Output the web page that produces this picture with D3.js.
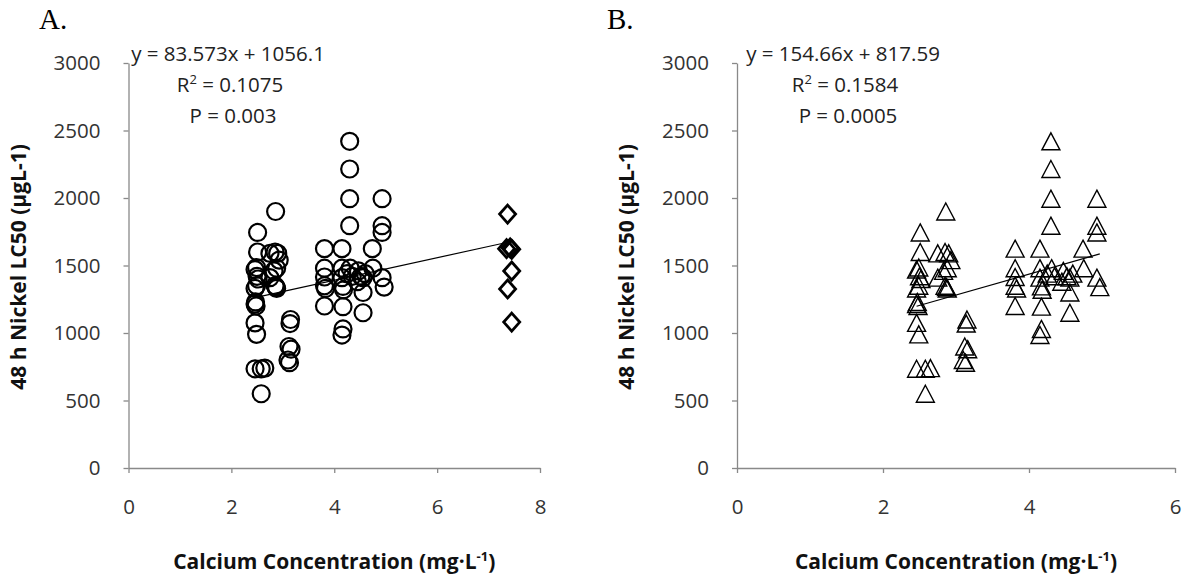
<!DOCTYPE html>
<html>
<head>
<meta charset="utf-8">
<script src="https://cdn.jsdelivr.net/npm/d3@7"></script>
<style>
  body { margin: 0; background: #fff; }
  text { font-family: "Open Sans", sans-serif; }
  text.letter { font-family: "Liberation Serif", "DejaVu Serif", serif; }
</style>
</head>
<body>
<script>
// shared data (circles in A, triangles in B)
const calcium = [2.51, 2.51, 2.46, 2.49, 2.50, 2.49, 2.46, 2.46, 2.48, 2.46, 2.49, 2.46, 2.58, 2.65, 2.58, 2.52, 2.47,
  2.86, 2.75, 2.85, 2.90, 2.88, 2.83, 2.75, 2.87, 2.88, 2.85, 2.93,
  3.15, 3.14, 3.12, 3.16, 3.10, 3.13,
  3.81, 3.81, 3.81, 3.81, 3.83, 3.81,
  4.30, 4.30, 4.30, 4.30, 4.15, 4.15, 4.31, 4.15, 4.17, 4.18, 4.17, 4.17, 4.15, 4.25, 4.35,
  4.47, 4.56, 4.45, 4.56, 4.60, 4.52, 4.56,
  4.74, 4.75,
  4.93, 4.93, 4.93, 4.93, 4.97]
const lc50 = [1745, 1600, 1470, 1485, 1420, 1350, 1330, 1215, 1200, 1075, 990, 735, 735, 740, 550, 1400, 1230,
  1900, 1590, 1600, 1590, 1480, 1460, 1410, 1340, 1330, 1350, 1540,
  1100, 1070, 900, 880, 800, 780,
  1625, 1480, 1415, 1350, 1330, 1200,
  2420, 2215, 1995, 1795, 1625, 1480, 1480, 1410, 1345, 1320, 1195, 1030, 985, 1440, 1420,
  1460, 1410, 1380, 1300, 1440, 1420, 1150,
  1625, 1480,
  1995, 1795, 1745, 1410, 1340]

// extra points in A only (diamonds)
const diaCa = [7.37, 7.35, 7.42, 7.45, 7.45, 7.37, 7.45]
const diaLc = [1881, 1625, 1630, 1620, 1459, 1326, 1081]

const yTicks = [0, 500, 1000, 1500, 2000, 2500, 3000]
const xTicksA = [0, 2, 4, 6, 8]
const xTicksB = [0, 2, 4, 6]

const fitA = [83.573, 1056.1]
const fitB = [154.66, 817.59]
const fitRangeA = [2.46, 7.45]
const fitRangeB = [2.46, 4.97]
const labelsA = ["y = 83.573x + 1056.1", "0.1075", "P = 0.003"]
const labelsB = ["y = 154.66x + 817.59", "0.1584", "P = 0.0005"]

const svg = d3.select("body").append("svg")
  .attr("width", 1190).attr("height", 583)

const grey = "#898989"

function panel(opt) {
  const x = d3.scaleLinear().domain(opt.xdom).range(opt.xr)
  const y = d3.scaleLinear().domain([0, 3000]).range([468, 63])
  const g = svg.append("g")

  const yAxis = g.append("g")
    .attr("transform", "translate(" + opt.xr[0] + ",0)")
    .call(d3.axisLeft(y).tickValues(yTicks).tickFormat(d => d).tickSize(5).tickSizeOuter(0).tickPadding(23))
  const xAxis = g.append("g")
    .attr("transform", "translate(0,468)")
    .call(d3.axisBottom(x).tickValues(opt.xticks).tickFormat(d => d).tickSize(5).tickSizeOuter(0).tickPadding(26))
  ;[xAxis, yAxis].forEach(a => {
    a.selectAll("path, line").attr("stroke", grey).attr("stroke-width", 1.3)
    a.selectAll("text").attr("font-size", 20.5).attr("fill", "#333")
  })

  // fit line
  g.append("line")
    .attr("x1", x(opt.fitRange[0])).attr("y1", y(opt.fit[0] * opt.fitRange[0] + opt.fit[1]))
    .attr("x2", x(opt.fitRange[1])).attr("y2", y(opt.fit[0] * opt.fitRange[1] + opt.fit[1]))
    .attr("stroke", "#000").attr("stroke-width", 1.2)

  if (opt.marker === "circle") {
    g.selectAll("circle.pt").data(calcium).enter().append("circle")
      .attr("class", "pt")
      .attr("cx", d => x(d)).attr("cy", (d, i) => y(lc50[i]))
      .attr("r", 8.5).attr("fill", "none").attr("stroke", "#000").attr("stroke-width", 2.2)
    g.selectAll("path.dia").data(diaCa).enter().append("path")
      .attr("class", "dia")
      .attr("transform", (d, i) => "translate(" + x(d) + "," + y(diaLc[i]) + ")")
      .attr("d", "M0,-9L8,0L0,9L-8,0Z")
      .attr("fill", "none").attr("stroke", "#000").attr("stroke-width", 2.8).attr("stroke-linejoin", "miter")
  } else {
    g.selectAll("path.tri").data(calcium).enter().append("path")
      .attr("class", "tri")
      .attr("transform", (d, i) => "translate(" + x(d) + "," + y(lc50[i]) + ")")
      .attr("d", "M0,-8.5L9,8.5L-9,8.5Z")
      .attr("fill", "none").attr("stroke", "#000").attr("stroke-width", 1.4)
  }

  // annotation
  const cx = opt.annX
  const ann = g.append("g").attr("font-size", 20.5).attr("fill", "#222").attr("text-anchor", "middle")
  ann.append("text").attr("x", cx).attr("y", 61).text(opt.labels[0])
  const r2 = ann.append("text").attr("x", cx + 2).attr("y", 92)
  r2.append("tspan").text("R")
  r2.append("tspan").attr("font-size", 13).attr("dy", -8).text("2")
  r2.append("tspan").attr("dy", 8).text(" = " + opt.labels[1])
  ann.append("text").attr("x", cx + 5).attr("y", 123).text(opt.labels[2])

  // titles
  const xt = g.append("text").attr("x", (opt.xr[0] + opt.xr[1]) / 2).attr("y", 569)
    .attr("text-anchor", "middle").attr("font-weight", "bold").attr("font-size", 21).attr("fill", "#111")
  xt.append("tspan").text("Calcium Concentration (mg·L")
  xt.append("tspan").attr("font-size", 13).attr("dy", -8).text("-1")
  xt.append("tspan").attr("dy", 8).text(")")

  g.append("text")
    .attr("transform", "translate(" + (opt.titleX) + ",267) rotate(-90)")
    .attr("text-anchor", "middle").attr("font-weight", "bold").attr("font-size", 21).attr("fill", "#111")
    .text("48 h Nickel LC50 (µgL-1)")

  svg.append("text").attr("class", "letter").attr("x", opt.letterX).attr("y", 29)
    .attr("font-size", 29).attr("fill", "#000")
    .text(opt.letter)
}

panel({ xdom: [0, 8], xr: [128.5, 540], xticks: xTicksA, marker: "circle", fit: fitA, fitRange: fitRangeA,
  labels: labelsA, annX: 228, titleX: 26, letter: "A.", letterX: 39 })
panel({ xdom: [0, 6], xr: [737, 1175], xticks: xTicksB, marker: "triangle", fit: fitB, fitRange: fitRangeB,
  labels: labelsB, annX: 843, titleX: 634, letter: "B.", letterX: 607 })
</script>
</body>
</html>
